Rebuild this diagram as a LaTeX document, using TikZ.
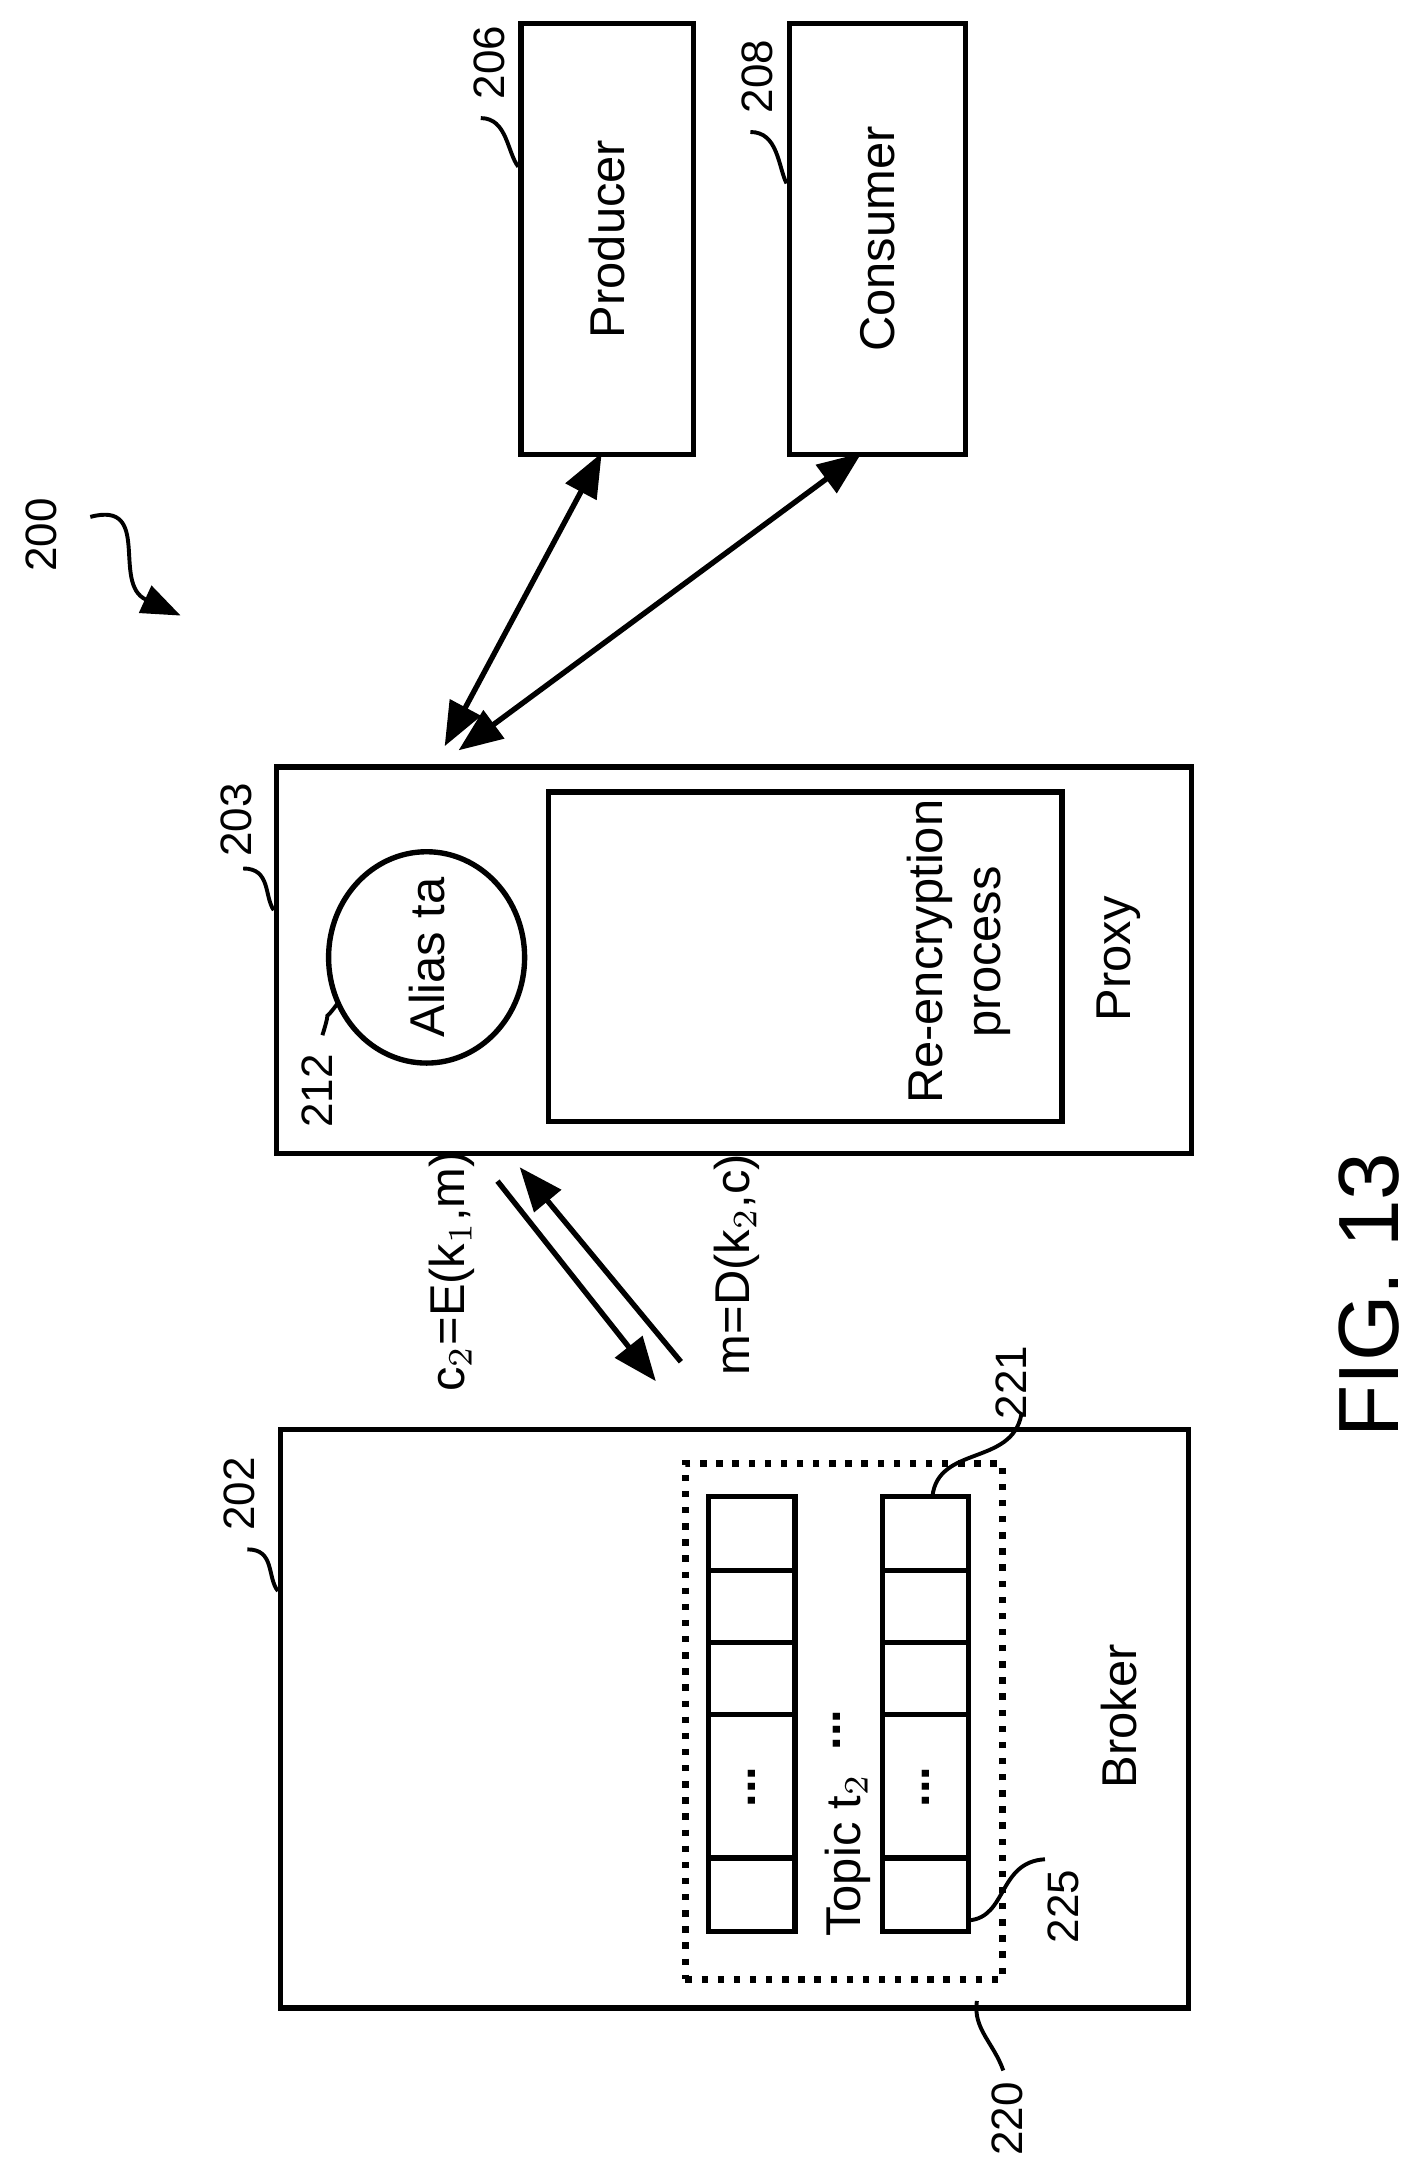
\documentclass[tikz,border=0pt]{standalone}
\usepackage{fontspec}
\setmainfont{Liberation Sans}
\usepackage{tikz}
\usetikzlibrary{arrows.meta,shapes.geometric}

\begin{document}
\begin{tikzpicture}[x=0.01cm,y=-0.01cm,line width=1.1pt,
    box/.style={draw, rectangle, anchor=north west, inner sep=0pt},
    lbl/.style={rotate=90, font=\fontsize{10}{12}\selectfont},
    ref/.style={rotate=90, font=\fontsize{9}{11}\selectfont},
    lead/.style={line width=0.8pt},
    tip/.style={-{Triangle[length=9pt,width=7pt]}}]
  \useasboundingbox (0,0) rectangle (1024,1571);
  % upper boxes
  \node (producer) [box, minimum width=1.24cm, minimum height=3.1cm] at (373,15) {};
  \node (consumer) [box, minimum width=1.27cm, minimum height=3.1cm] at (566,15) {};
  \node [lbl] at (producer.center) {Producer};
  \node [lbl] at (consumer.center) {Consumer};
  % proxy
  \node (proxy) [box, minimum width=6.58cm, minimum height=2.78cm] at (197,550) {};
  \node (reenc) [box, minimum width=3.69cm, minimum height=2.37cm] at (393,568) {};
  \node [lbl, align=center] at (690,685) {Re-encryption\\process};
  \node [lbl] at (805,690) {Proxy};
  \node (alias) [draw, ellipse, minimum width=1.41cm, minimum height=1.52cm] at (307,689) {};
  \node [lbl] at (alias.center) {Alias ta};
  % broker
  \node (broker) [box, minimum width=6.53cm, minimum height=4.16cm] at (200,1027) {};
  \node [lbl] at (805,1235) {Broker};
  \node (topic) [box, dotted, line width=1.3pt, minimum width=2.28cm, minimum height=3.71cm] at (491,1051) {};
  \foreach \c in {510,635} {
    \draw (\c,1077) rectangle (\c+62,1390);
    \foreach \r in {1130,1182,1234,1337} \draw (\c,\r) -- (\c+62,\r);
    \node [lbl, font=\bfseries] at (\c+31,1286) {...};
  }
  \coordinate (cellA) at (671,1077);
  \coordinate (cellB) at (697,1382);
  \node [lbl] at (610,1335) {Topic t$_2$};
  \node [lbl, font=\bfseries] at (602,1245) {...};
  % messages
  \coordinate (pa) at (358,850); \coordinate (pb) at (472,994);
  \coordinate (pc) at (490,980); \coordinate (pd) at (374,840);
  \draw [tip] (pa) -- (pb);
  \draw [tip] (pc) -- (pd);
  \node [lbl] at (325,915) {c$_2$=E(k$_1$,m)};
  \node [lbl] at (530,910) {m=D(k$_2$,c)};
  % links to producer and consumer
  \draw [{Triangle[length=9pt,width=7pt]}-{Triangle[length=9pt,width=7pt]}] (320,537) -- (433,326);
  \draw [{Triangle[length=9pt,width=7pt]}-{Triangle[length=9pt,width=7pt]}] (330,540) -- (620,326);
  % reference numerals
  \node (n200) [ref] at (30,385) {200};
  \draw [lead, -{Triangle[length=8pt,width=6pt]}] (65,372) .. controls (110,360) and (80,420) .. (130,443);
  \node (n206) [ref] at (352,45) {206};
  \draw [lead] (346,85) .. controls (365,85) and (365,110) .. (373,120);
  \node (n208) [ref] at (545,55) {208};
  \draw [lead] (540,95) .. controls (560,95) and (560,120) .. (566,132);
  \node (n203) [ref] at (170,590) {203};
  \draw [lead] (175,625) .. controls (195,625) and (190,645) .. (197,655);
  \node (n212) [ref] at (228,785) {212};
  \draw [lead] (232,745) .. controls (240,720) and (230,740) .. (243,722);
  \node (n202) [ref] at (172,1075) {202};
  \draw [lead] (178,1115) .. controls (198,1115) and (192,1135) .. (200,1145);
  \node (n221) [ref] at (728,995) {221};
  \draw [lead] (735,1018) .. controls (728,1055) and (675,1040) .. (cellA);
  \node (n225) [ref] at (765,1372) {225};
  \draw [lead] (cellB) .. controls (725,1380) and (718,1340) .. (752,1338);
  \node (n220) [ref] at (725,1525) {220};
  \draw [lead] (722,1490) .. controls (715,1470) and (700,1460) .. (703,1440);
  \node [rotate=90, font=\fontsize{17.5}{20}\selectfont] at (985,932) {FIG. 13};
\end{tikzpicture}
\end{document}
